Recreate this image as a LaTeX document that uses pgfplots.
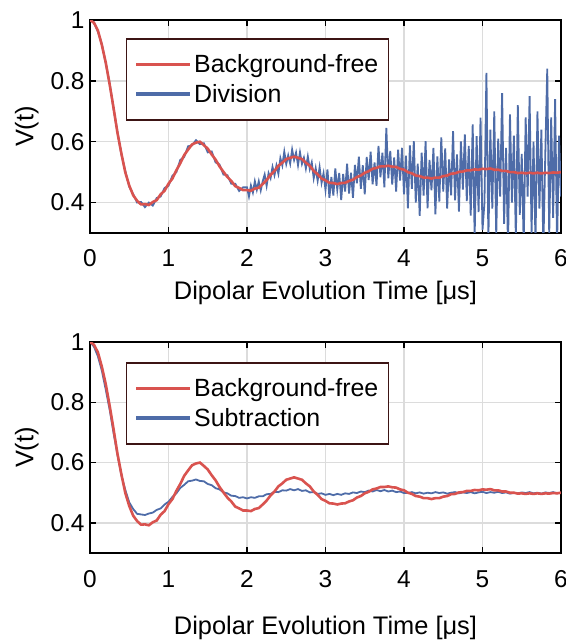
\documentclass[border=0pt]{standalone}
\usepackage{fontspec}
\setmainfont{Liberation Sans}
\usepackage{pgfplots}
\usepackage{pgfplotstable}
\pgfplotsset{compat=1.18}
\definecolor{cred}{RGB}{217,83,79}
\definecolor{cblue}{RGB}{78,108,168}
\definecolor{legbd}{RGB}{60,20,20}
\definecolor{gridc}{RGB}{220,220,220}

\pgfplotstableread{
t V
0.00 1.000
0.05 0.991
0.10 0.966
0.15 0.919
0.20 0.861
0.25 0.789
0.30 0.711
0.35 0.629
0.40 0.561
0.45 0.499
0.50 0.456
0.55 0.424
0.60 0.406
0.65 0.394
0.70 0.395
0.75 0.392
0.80 0.402
0.85 0.408
0.90 0.427
0.95 0.439
1.00 0.462
1.05 0.479
1.10 0.506
1.15 0.529
1.20 0.556
1.25 0.574
1.30 0.591
1.35 0.597
1.40 0.600
1.45 0.589
1.50 0.577
1.55 0.558
1.60 0.541
1.65 0.519
1.70 0.501
1.75 0.484
1.80 0.471
1.85 0.454
1.90 0.448
1.95 0.441
2.00 0.441
2.05 0.439
2.10 0.446
2.15 0.449
2.20 0.461
2.25 0.474
2.30 0.491
2.35 0.504
2.40 0.521
2.45 0.531
2.50 0.543
2.55 0.547
2.60 0.551
2.65 0.547
2.70 0.543
2.75 0.531
2.80 0.521
2.85 0.504
2.90 0.493
2.95 0.479
3.00 0.473
3.05 0.465
3.10 0.464
3.15 0.461
3.20 0.464
3.25 0.465
3.30 0.471
3.35 0.475
3.40 0.484
3.45 0.489
3.50 0.498
3.55 0.503
3.60 0.511
3.65 0.514
3.70 0.519
3.75 0.519
3.80 0.521
3.85 0.518
3.90 0.517
3.95 0.511
4.00 0.508
4.05 0.500
4.10 0.496
4.15 0.489
4.20 0.487
4.25 0.482
4.30 0.482
4.35 0.479
4.40 0.482
4.45 0.482
4.50 0.487
4.55 0.489
4.60 0.495
4.65 0.496
4.70 0.501
4.75 0.502
4.80 0.506
4.85 0.506
4.90 0.509
4.95 0.508
5.00 0.511
5.05 0.510
5.10 0.512
5.15 0.508
5.20 0.508
5.25 0.504
5.30 0.504
5.35 0.500
5.40 0.500
5.45 0.497
5.50 0.498
5.55 0.496
5.60 0.498
5.65 0.496
5.70 0.498
5.75 0.496
5.80 0.498
5.85 0.497
5.90 0.499
5.95 0.498
6.00 0.500
}\bgfree

\pgfplotstableread{
t V
0.00 1.000
0.05 0.992
0.10 0.962
0.15 0.922
0.20 0.858
0.25 0.792
0.30 0.708
0.35 0.632
0.40 0.558
0.45 0.503
0.50 0.452
0.55 0.428
0.60 0.400
0.65 0.402
0.70 0.385
0.75 0.400
0.80 0.390
0.85 0.415
0.90 0.420
0.95 0.448
1.00 0.455
1.05 0.488
1.10 0.500
1.15 0.540
1.20 0.550
1.25 0.585
1.30 0.588
1.35 0.605
1.40 0.592
1.45 0.595
1.50 0.565
1.55 0.568
1.60 0.532
1.65 0.525
1.70 0.492
1.75 0.490
1.80 0.462
1.85 0.462
1.90 0.438
1.95 0.450
2.000 0.450
2.025 0.420
2.050 0.456
2.075 0.433
2.100 0.470
2.125 0.442
2.150 0.470
2.175 0.440
2.200 0.470
2.225 0.492
2.250 0.455
2.275 0.497
2.300 0.480
2.325 0.517
2.350 0.490
2.375 0.522
2.400 0.495
2.425 0.546
2.450 0.522
2.475 0.567
2.500 0.527
2.525 0.555
2.550 0.528
2.575 0.574
2.600 0.540
2.625 0.564
2.650 0.523
2.675 0.565
2.700 0.527
2.725 0.547
2.750 0.512
2.775 0.551
2.800 0.510
2.825 0.532
2.850 0.480
2.875 0.513
2.900 0.472
2.925 0.516
2.950 0.465
2.975 0.496
3.000 0.442
3.025 0.509
3.050 0.416
3.075 0.484
3.100 0.423
3.125 0.512
3.150 0.442
3.175 0.497
3.200 0.408
3.225 0.494
3.250 0.436
3.275 0.528
3.300 0.430
3.325 0.498
3.350 0.416
3.375 0.524
3.400 0.463
3.425 0.551
3.450 0.445
3.475 0.523
3.500 0.427
3.525 0.550
3.550 0.474
3.575 0.567
3.600 0.460
3.625 0.532
3.650 0.455
3.675 0.586
3.700 0.483
3.725 0.564
3.750 0.450
3.775 0.645
3.800 0.480
3.825 0.570
3.850 0.459
3.875 0.548
3.900 0.436
3.925 0.574
3.950 0.472
3.975 0.580
4.000 0.427
4.025 0.554
4.050 0.381
4.075 0.588
4.100 0.445
4.125 0.602
4.150 0.400
4.175 0.528
4.200 0.356
4.225 0.564
4.250 0.423
4.275 0.602
4.300 0.381
4.325 0.540
4.350 0.440
4.375 0.580
4.400 0.361
4.425 0.552
4.450 0.403
4.475 0.614
4.500 0.436
4.525 0.578
4.550 0.380
4.575 0.542
4.600 0.424
4.625 0.635
4.650 0.407
4.675 0.558
4.700 0.370
4.725 0.601
4.750 0.443
4.775 0.624
4.800 0.405
4.825 0.586
4.850 0.357
4.875 0.657
4.900 0.288
4.925 0.618
4.950 0.369
4.975 0.679
5.000 0.310
5.025 0.400
5.050 0.826
5.075 0.280
5.100 0.640
5.125 0.380
5.150 0.700
5.175 0.290
5.200 0.610
5.225 0.420
5.250 0.760
5.275 0.330
5.300 0.580
5.325 0.250
5.350 0.690
5.375 0.400
5.400 0.620
5.425 0.280
5.450 0.720
5.475 0.360
5.500 0.560
5.525 0.260
5.550 0.680
5.575 0.420
5.600 0.750
5.625 0.300
5.650 0.600
5.675 0.270
5.700 0.700
5.725 0.380
5.750 0.640
5.775 0.250
5.800 0.560
5.825 0.840
5.850 0.290
5.875 0.680
5.900 0.350
5.925 0.740
5.950 0.260
5.975 0.620
6.000 0.420
}\division

\pgfplotstableread{
t V
0.00 1.000
0.05 0.985
0.10 0.953
0.15 0.906
0.20 0.843
0.25 0.776
0.30 0.698
0.35 0.626
0.40 0.558
0.45 0.509
0.50 0.468
0.55 0.446
0.60 0.430
0.65 0.428
0.70 0.426
0.75 0.431
0.80 0.434
0.85 0.443
0.90 0.448
0.95 0.461
1.00 0.470
1.05 0.486
1.10 0.498
1.15 0.516
1.20 0.526
1.25 0.538
1.30 0.540
1.35 0.544
1.40 0.539
1.45 0.538
1.50 0.529
1.55 0.525
1.60 0.515
1.65 0.511
1.70 0.501
1.75 0.498
1.80 0.490
1.85 0.489
1.90 0.483
1.95 0.485
2.00 0.481
2.05 0.485
2.10 0.483
2.15 0.488
2.20 0.488
2.25 0.495
2.30 0.496
2.35 0.503
2.40 0.502
2.45 0.508
2.50 0.507
2.55 0.512
2.60 0.508
2.65 0.512
2.70 0.506
2.75 0.508
2.80 0.501
2.85 0.502
2.90 0.496
2.95 0.498
3.00 0.493
3.05 0.496
3.10 0.492
3.15 0.496
3.20 0.493
3.25 0.498
3.30 0.496
3.35 0.501
3.40 0.499
3.45 0.504
3.50 0.502
3.55 0.507
3.60 0.504
3.65 0.509
3.70 0.505
3.75 0.509
3.80 0.504
3.85 0.507
3.90 0.502
3.95 0.504
4.00 0.499
4.05 0.499
4.10 0.502
4.15 0.498
4.20 0.501
4.25 0.497
4.30 0.500
4.35 0.498
4.40 0.502
4.45 0.499
4.50 0.501
4.55 0.497
4.60 0.500
4.65 0.502
4.70 0.498
4.75 0.501
4.80 0.499
4.85 0.502
4.90 0.498
4.95 0.501
5.00 0.503
5.05 0.499
5.10 0.502
5.15 0.500
5.20 0.503
5.25 0.499
5.30 0.501
5.35 0.497
5.40 0.500
5.45 0.498
5.50 0.501
5.55 0.499
5.60 0.502
5.65 0.498
5.70 0.500
5.75 0.497
5.80 0.501
5.85 0.499
5.90 0.502
5.95 0.498
6.00 0.500
}\subtraction

\pgfplotsset{
  panel/.style={
    scale only axis, width=471bp,
    xmin=0, xmax=6, ymin=0.3, ymax=1,
    xtick={0,1,2,3,4,5,6}, ytick={0.4,0.6,0.8,1},
    grid=major, grid style={draw=gridc, line width=1.4bp},
    axis line style={line width=1.6bp, black},
    tick style={line width=1.4bp, black},
    major tick length=6bp, tick align=inside,
    /pgf/number format/assume math mode=true,
    tick label style={font=\fontsize{24.5}{29}\selectfont},
    xticklabel style={anchor=base, yshift=-34bp},
    yticklabel style={anchor=east, xshift=-2bp},
    label style={font=\fontsize{25.5}{30}\selectfont},
    ylabel={V(t)},
    ylabel style={at={(axis description cs:-0.134,0.5)}, anchor=center},
    xlabel={Dipolar Evolution Time [μs]},
    reverse legend,
    legend style={at={(axis description cs:0.0764,0.915)}, anchor=north west,
      draw=legbd, line width=1.5bp, font=\fontsize{25}{30}\selectfont,
      inner xsep=8bp, inner ysep=14bp, row sep=6bp,
      nodes={inner xsep=2bp, inner ysep=2bp}, cells={anchor=west}},
    legend image code/.code={\draw[#1, line width=3.5bp] (0bp,0bp) -- (54bp,0bp);},
  }
}

\begin{document}
\begin{tikzpicture}
\useasboundingbox (0,0) rectangle (566bp,-642bp);
\begin{axis}[panel, height=213bp, at={(90bp,-20bp)}, anchor=north west,
  xlabel style={at={(axis description cs:0.5,-0.31)}, anchor=base}]
\addplot[cblue, line width=1.8bp] table[x=t,y=V] {\division};
\addlegendentry{Division}
\addplot[cred, line width=2.6bp] table[x=t,y=V] {\bgfree};
\addlegendentry{Background-free}
\end{axis}
\begin{axis}[panel, height=211bp, at={(90bp,-342bp)}, anchor=north west,
  legend style={at={(axis description cs:0.0764,0.905)}},
  xlabel style={at={(axis description cs:0.5,-0.384)}, anchor=base}]
\addplot[cblue, line width=1.8bp] table[x=t,y=V] {\subtraction};
\addlegendentry{Subtraction}
\addplot[cred, line width=2.6bp] table[x=t,y=V] {\bgfree};
\addlegendentry{Background-free}
\end{axis}
\end{tikzpicture}
\end{document}
